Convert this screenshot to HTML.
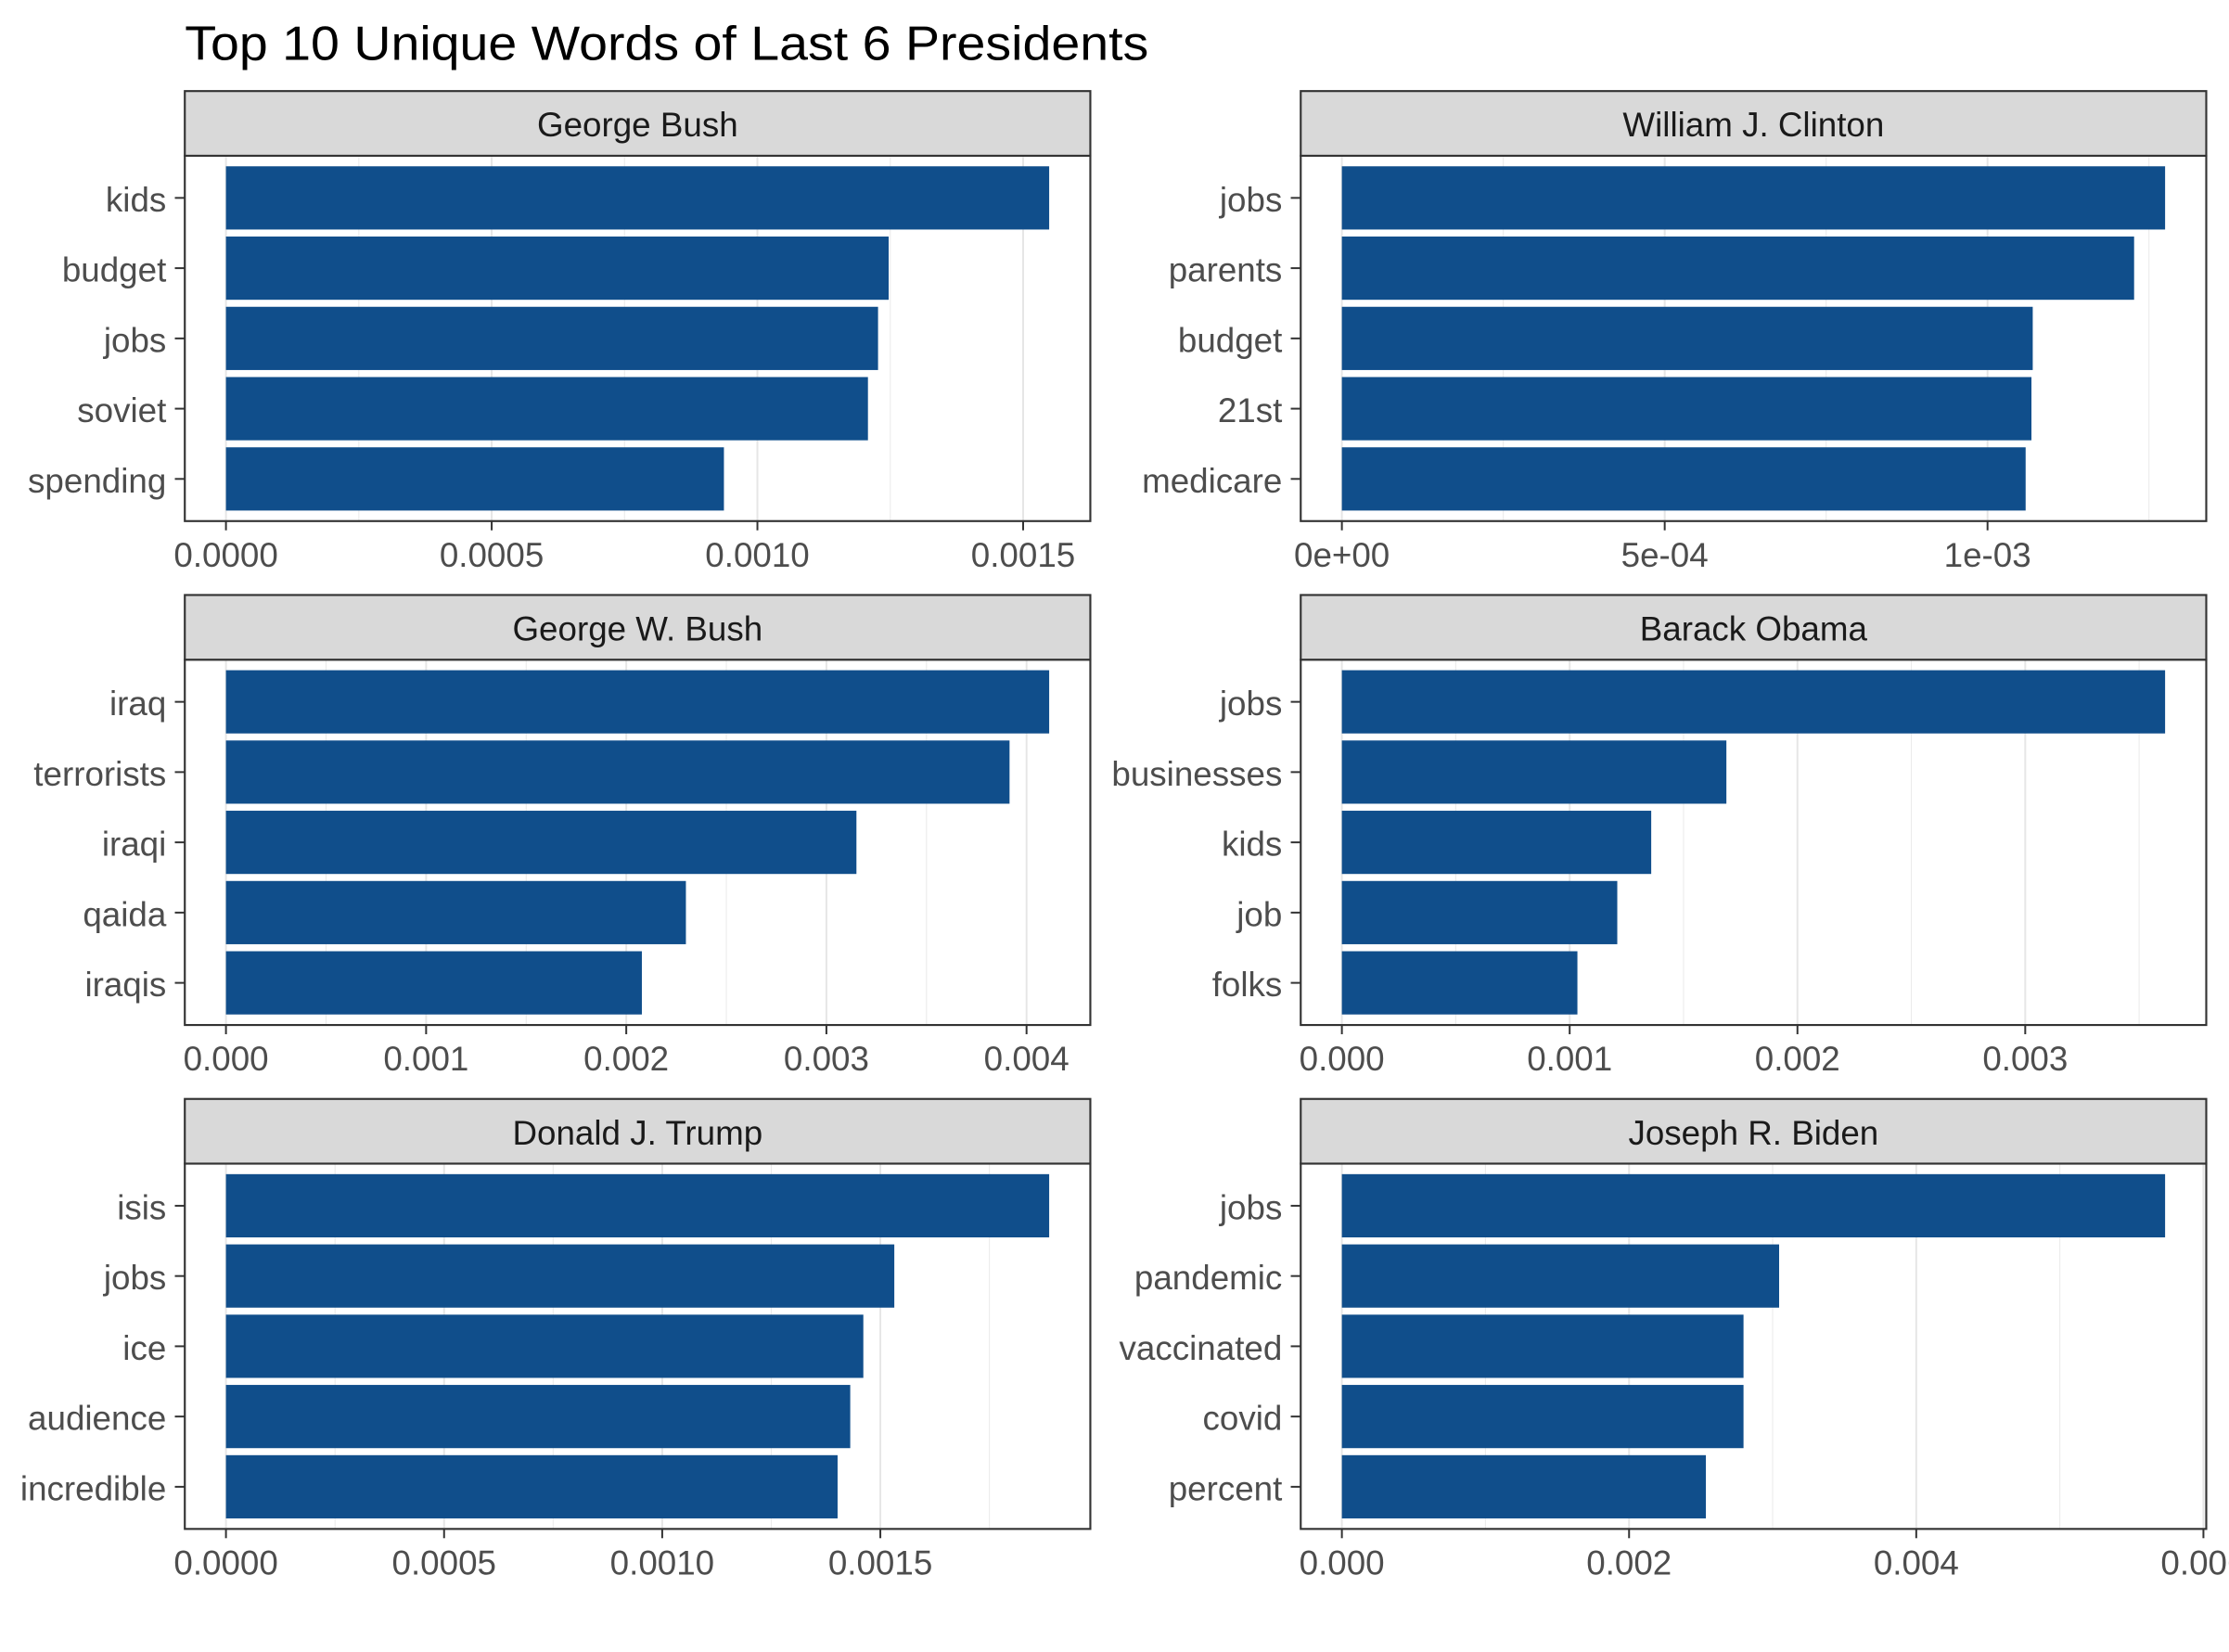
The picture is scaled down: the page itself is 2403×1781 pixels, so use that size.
<!DOCTYPE html>
<html><head><meta charset="utf-8"><style>
html,body{margin:0;padding:0;background:#fff;}
svg{display:block;}
text{font-family:"Liberation Sans",Arial,sans-serif;}
</style></head><body>
<svg id="chart" width="2403" height="1781" viewBox="0 0 1568 1162" xmlns="http://www.w3.org/2000/svg">
<rect x="0" y="0" width="1568" height="1162" fill="#fff"/>
<text x="130" y="42" font-size="34" textLength="678" lengthAdjust="spacingAndGlyphs" fill="#000">Top 10 Unique Words of Last 6 Presidents</text>
</svg>
<script>
const presidents = ["George Bush","William J. Clinton","George W. Bush","Barack Obama","Donald J. Trump","Joseph R. Biden"];

const bushWords = ["kids","budget","jobs","soviet","spending"];
const bushValues = [0.001549,0.001247,0.001227,0.001208,0.000937];
const bushTicks = [0,0.0005,0.001,0.0015];
const bushTickLabels = ["0.0000","0.0005","0.0010","0.0015"];

const clintonWords = ["jobs","parents","budget","21st","medicare"];
const clintonValues = [0.001275,0.001227,0.001070,0.001068,0.001059];
const clintonTicks = [0,0.0005,0.001];
const clintonTickLabels = ["0e+00","5e-04","1e-03"];

const gwbushWords = ["iraq","terrorists","iraqi","qaida","iraqis"];
const gwbushValues = [0.004113,0.003915,0.003150,0.002298,0.002078];
const gwbushTicks = [0,0.001,0.002,0.003,0.004];
const gwbushTickLabels = ["0.000","0.001","0.002","0.003","0.004"];

const obamaWords = ["jobs","businesses","kids","job","folks"];
const obamaValues = [0.003614,0.001688,0.001358,0.001209,0.001034];
const obamaTicks = [0,0.001,0.002,0.003];
const obamaTickLabels = ["0.000","0.001","0.002","0.003"];

const trumpWords = ["isis","jobs","ice","audience","incredible"];
const trumpValues = [0.001887,0.001532,0.001461,0.001431,0.001402];
const trumpTicks = [0,0.0005,0.001,0.0015];
const trumpTickLabels = ["0.0000","0.0005","0.0010","0.0015"];

const bidenWords = ["jobs","pandemic","vaccinated","covid","percent"];
const bidenValues = [0.005733,0.003045,0.002797,0.002797,0.002535];
const bidenTicks = [0,0.002,0.004,0.006];
const bidenTickLabels = ["0.000","0.002","0.004","0.006"];

const panelData = [
  [bushWords,bushValues,bushTicks,bushTickLabels],
  [clintonWords,clintonValues,clintonTicks,clintonTickLabels],
  [gwbushWords,gwbushValues,gwbushTicks,gwbushTickLabels],
  [obamaWords,obamaValues,obamaTicks,obamaTickLabels],
  [trumpWords,trumpValues,trumpTicks,trumpTickLabels],
  [bidenWords,bidenValues,bidenTicks,bidenTickLabels]
];

const NS = "http://www.w3.org/2000/svg";
const svg = document.getElementById('chart');
function mk(tag, attrs, parent){
  const e = document.createElementNS(NS, tag);
  for (const k in attrs) e.setAttribute(k, attrs[k]);
  (parent||svg).appendChild(e);
  return e;
}
const colX = [[130,767],[915,1552]];
const rowY = [64,418.5,773];
const stripH = 45.5, plotH = 257;

panelData.forEach((pd, i) => {
  const [words, values, ticks, tickLabels] = pd;
  const [x0, x1] = colX[i % 2];
  const sy = rowY[Math.floor(i / 2)];
  const py0 = sy + stripH, py1 = py0 + plotH;
  const g = mk('g', {});
  
  
  const maxV = Math.max(...values);
  const lo = -0.05 * maxV, hi = 1.05 * maxV;
  const xs = v => x0 + (v - lo) / (hi - lo) * (x1 - x0);
  const n = words.length;
  const unit = plotH / (n + 0.2);
  const ys = k => py0 + (0.6 + k) * unit;
  const step = ticks[1] - ticks[0];
  for (let t = ticks[0] + step / 2; t < hi; t += step) {
    const gx = xs(t);
    if (gx > x0 && gx < x1) {
      const l = mk('line', {x1: gx, x2: gx, y1: py0, y2: py1, stroke: '#ebebeb', 'stroke-width': 0.7}, g);
      
      
    }
  }
  ticks.forEach(t => {
    const gx = xs(t);
    if (gx >= x0 && gx <= x1) {
      const l = mk('line', {x1: gx, x2: gx, y1: py0, y2: py1, stroke: '#e6e6e6', 'stroke-width': 1.3}, g);
      
      
    }
  });
  words.forEach((w, k) => {
    const cy = ys(k);
    const r = mk('rect', {x: xs(0), y: cy - 0.45 * unit, width: xs(values[k]) - xs(0), height: 0.9 * unit, fill: '#104E8B'}, g);
    
    
    const tk = mk('line', {x1: x0 - 7, x2: x0, y1: cy, y2: cy, stroke: '#333', 'stroke-width': 1.3}, g);
    
    
    const tl = mk('text', {x: x0 - 13, y: cy + 9.5, 'font-size': 24, fill: '#4d4d4d', 'text-anchor': 'end'}, g);
    tl.textContent = w;
    
    
  });
  ticks.forEach((t, k) => {
    const gx = xs(t);
    const tk = mk('line', {x1: gx, x2: gx, y1: py1, y2: py1 + 6.5, stroke: '#333', 'stroke-width': 1.3}, g);
    
    
    const tl = mk('text', {x: gx, y: py1 + 32, 'font-size': 24, fill: '#4d4d4d', 'text-anchor': 'middle'}, g);
    tl.textContent = tickLabels[k];
    
    
  });
  const b = mk('rect', {x: x0, y: py0, width: x1 - x0, height: plotH, fill: 'none', stroke: '#333', 'stroke-width': 1.4}, g);
  
  
  const s = mk('rect', {x: x0, y: sy, width: x1 - x0, height: stripH, fill: '#d9d9d9', stroke: '#333', 'stroke-width': 1.4}, g);
  
  
  const st = mk('text', {x: (x0 + x1) / 2, y: sy + 32, 'font-size': 24, fill: '#1a1a1a', 'text-anchor': 'middle'}, g);
  st.textContent = presidents[i];
  
  
});
</script>
</body></html>
